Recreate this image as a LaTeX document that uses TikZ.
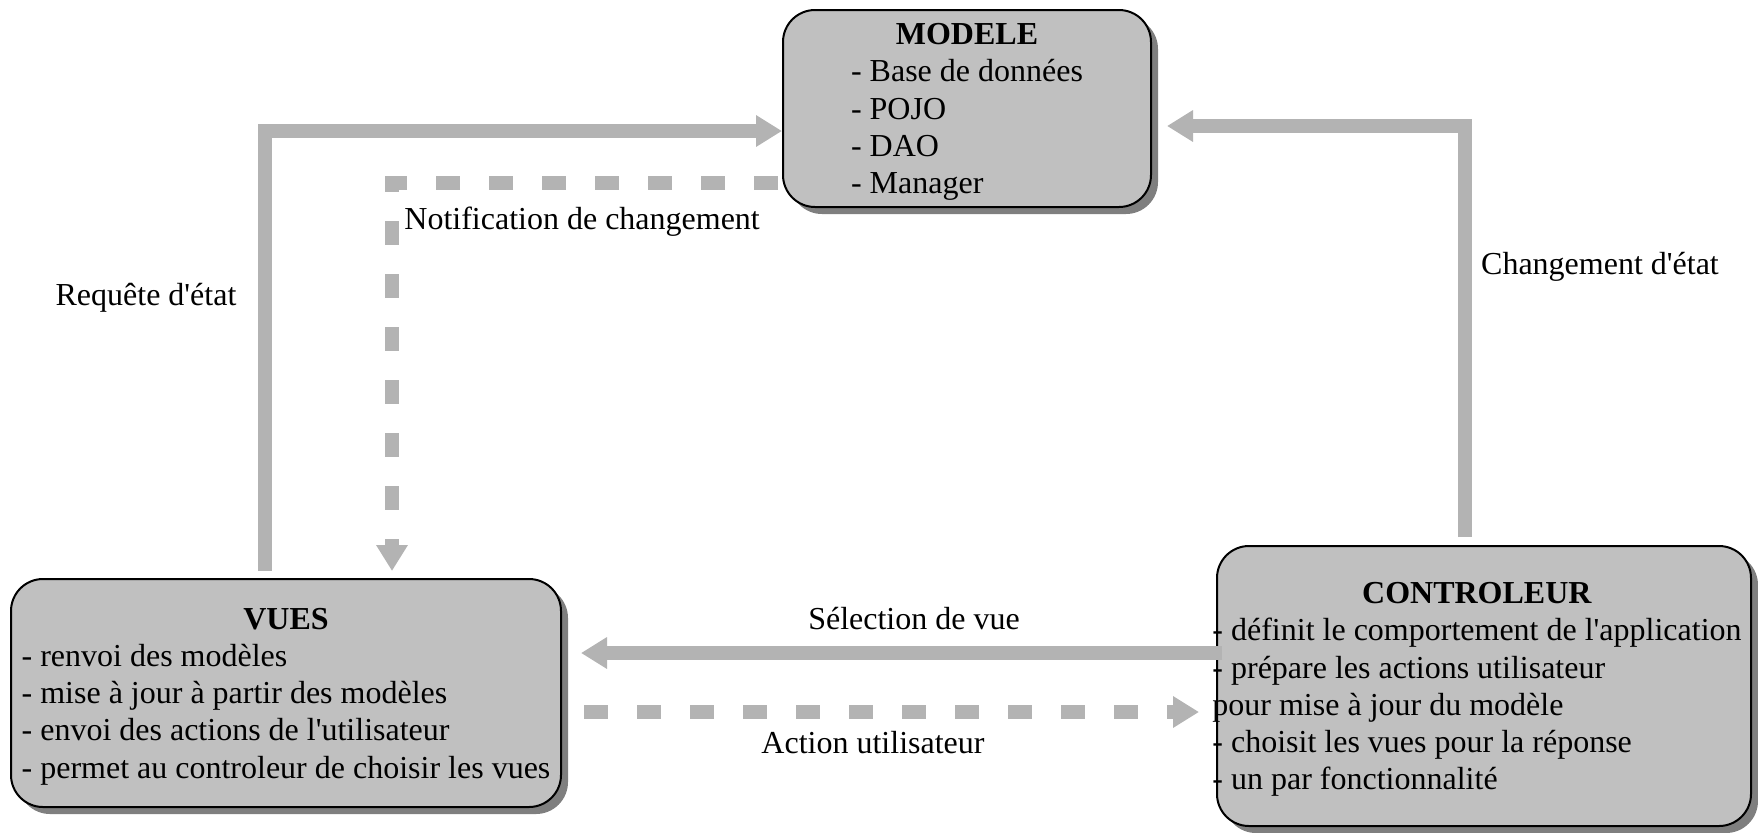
\documentclass[tikz,border=0pt]{standalone}
\usepackage{fontspec}
\setmainfont{Liberation Serif}[Ligatures=TeXOff]
\usetikzlibrary{arrows.meta,shadows}
\definecolor{boxgray}{HTML}{C0C0C0}
\definecolor{flowgray}{HTML}{B3B3B3}
\definecolor{shadowgray}{HTML}{7F7F7F}
\tikzset{
	mvcbox/.style={draw=black, line width=1pt, fill=boxgray, rounded corners=16pt, inner sep=0pt,
		drop shadow={shadow xshift=3.5pt, shadow yshift=-3.5pt, fill=shadowgray, opacity=1}},
	flow/.style={draw=flowgray, line width=7pt, -{Triangle[length=13pt,width=15pt]}},
	dashflow/.style={flow, dash pattern=on 12pt off 14.5pt},
	lbl/.style={inner sep=0pt}
}
\newcommand{\boxtext}[2]{\raisebox{-1.6pt}[\height][\depth]{\begin{tabular}{@{}l@{}}\multicolumn{1}{@{}c@{}}{\textbf{#1}}\\#2\end{tabular}}}
\begin{document}
\begin{tikzpicture}[x=0.5pt, y=-0.5pt, font=\fontsize{16pt}{18.6pt}\selectfont]
	\useasboundingbox (0,0) rectangle (1758,832);
	% les trois blocs
	\node[mvcbox, minimum width=184pt, minimum height=98.5pt] (modele) at (967,108.5)
		{\boxtext{MODELE}{- Base de données\\- POJO\\- DAO\\- Manager}};
	\node[mvcbox, minimum width=275pt, minimum height=114pt] (vues) at (286,693)
		{\boxtext{VUES}{- renvoi des modèles\\- mise à jour à partir des modèles\\- envoi des actions de l'utilisateur\\- permet au controleur de choisir les vues}};
	\node[mvcbox, minimum width=267pt, minimum height=140pt] (ctrl) at (1484,686)
		{\hspace*{-7pt}\boxtext{CONTROLEUR}{- définit le comportement de l'application\\- prépare les actions utilisateur\\pour mise à jour du modèle\\- choisit les vues pour la réponse\\- un par fonctionnalité}};
	% les flux
	\coordinate (rq) at (265,131);
	\coordinate (nt) at (392,183);
	\coordinate (ch) at (1465,126);
	\coordinate (sv) at (0,653);
	\coordinate (au) at (0,712);
	\draw[flow, shorten <=3.5pt] (vues.north -| rq) |- (modele.west |- rq);
	\draw[dashflow, shorten <=2pt, shorten >=3.5pt] (modele.west |- nt) -| (vues.north -| nt);
	\draw[flow, shorten <=4pt, shorten >=7.5pt] (ctrl.north -| ch) |- (modele.east |- ch);
	\draw[flow, shorten <=-3pt, shorten >=9.5pt] (ctrl.west |- sv) -- (vues.east |- sv);
	\draw[dashflow, shorten <=11pt, shorten >=8.5pt] (vues.east |- au) -- (ctrl.west |- au);
	% les libelles
	\node[lbl, anchor=west] (ntlbl) at (404,222) {Notification de changement};
	\node[lbl] (rqlbl) at (146,298) {Requête d'état};
	\node[lbl] (chlbl) at (1600,267) {Changement d'état};
	\node[lbl] (svlbl) at (914,619) {Sélection de vue};
	\node[lbl] (aulbl) at (873,743) {Action utilisateur};
\end{tikzpicture}
\end{document}
